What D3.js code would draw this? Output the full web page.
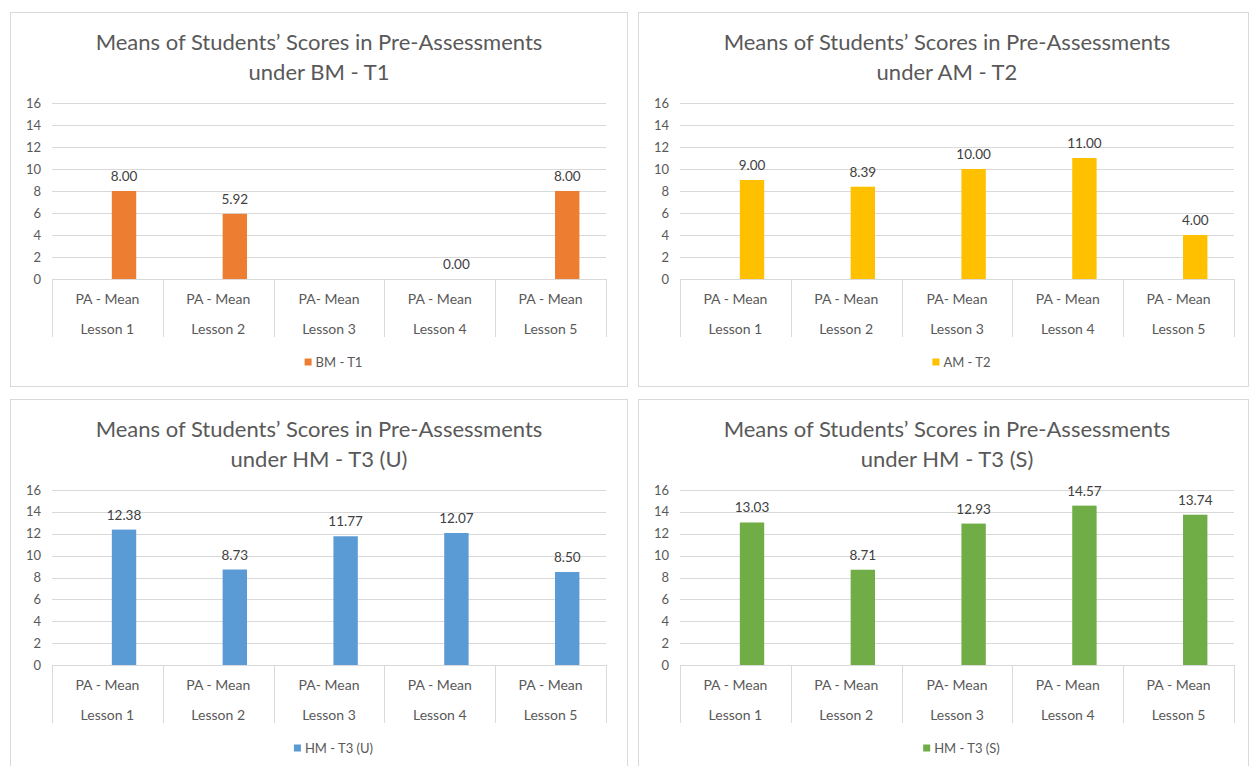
<!DOCTYPE html>
<html lang="en">
<head>
  <meta charset="UTF-8">
  <title>Means of Students' Scores in Pre-Assessments</title>
  <script src="https://d3js.org/d3.v7.min.js"></script>
  <style>
    body { margin: 0; background: #fff; font-family: Lato, "Open Sans", sans-serif; }
    .title { fill: #595959; font-size: 22px; }
    .tick-label { fill: #595959; font-size: 13px; }
    .cat-label { fill: #595959; font-size: 14px; }
    .value-label { fill: #404040; font-size: 13.5px; }
    .legend-label { fill: #595959; font-size: 13px; }
    .grid { stroke: #d9d9d9; stroke-width: 1; }
    .frame { fill: none; stroke: #d9d9d9; stroke-width: 1; }
  </style>
</head>
<body>
  <div id="chart"></div>
  <script>
    // categories
    const lessons = ["Lesson 1", "Lesson 2", "Lesson 3", "Lesson 4", "Lesson 5"];
    const subLabels = ["PA - Mean", "PA - Mean", "PA- Mean", "PA - Mean", "PA - Mean"];
    const yTicks = [0, 2, 4, 6, 8, 10, 12, 14, 16];

    // series values (null = no bar, no label)
    const bmT1 = [8.00, 5.92, null, 0.00, 8.00];
    const amT2 = [9.00, 8.39, 10.00, 11.00, 4.00];
    const hmT3U = [12.38, 8.73, 11.77, 12.07, 8.50];
    const hmT3S = [13.03, 8.71, 12.93, 14.57, 13.74];

    const titleLine1 = "Means of Students’ Scores in Pre-Assessments";

    const width = 1250, height = 766;
    const svg = d3.select("#chart").append("svg")
      .attr("width", width)
      .attr("height", height);

    const panels = [
      { name: "BM - T1", values: bmT1, color: "#ED7D31", fx: 10, fy: 12, fw: 617, fh: 374, x0: 52, x1: 606, y0: 279, y1: 103 },
      { name: "AM - T2", values: amT2, color: "#FFC000", fx: 638, fy: 12, fw: 610, fh: 374, x0: 680, x1: 1234, y0: 279, y1: 103 },
      { name: "HM - T3 (U)", values: hmT3U, color: "#5B9BD5", fx: 10, fy: 399, fw: 617, fh: 380, x0: 52, x1: 606, y0: 665, y1: 490 },
      { name: "HM - T3 (S)", values: hmT3S, color: "#70AD47", fx: 638, fy: 399, fw: 610, fh: 380, x0: 680, x1: 1234, y0: 665, y1: 490 }
    ];

    panels.forEach(p => drawPanel(p));

    function drawPanel(p) {
      const g = svg.append("g");

      g.append("rect")
        .attr("class", "frame")
        .attr("x", p.fx + 0.5)
        .attr("y", p.fy + 0.5)
        .attr("width", p.fw)
        .attr("height", p.fh);

      const cx = (p.x0 + p.x1) / 2;
      const title = g.append("text")
        .attr("class", "title")
        .attr("text-anchor", "middle");
      title.append("tspan").attr("x", cx - 10).attr("y", p.fy + 38).text(titleLine1);
      title.append("tspan").attr("x", cx - 10).attr("y", p.fy + 68).text("under " + p.name);

      const x = d3.scaleBand().domain(lessons).range([p.x0, p.x1]);
      const y = d3.scaleLinear().domain([0, 16]).range([p.y0, p.y1]);

      // gridlines
      g.selectAll(".grid")
        .data(yTicks)
        .enter().append("line")
        .attr("class", "grid")
        .attr("x1", p.x0)
        .attr("x2", p.x1)
        .attr("y1", d => Math.round(y(d)) + 0.5)
        .attr("y2", d => Math.round(y(d)) + 0.5);

      // y tick labels
      g.selectAll(".tick-label")
        .data(yTicks)
        .enter().append("text")
        .attr("class", "tick-label")
        .attr("x", p.x0 - 11)
        .attr("y", d => y(d))
        .attr("dy", "0.35em")
        .attr("text-anchor", "end")
        .text(d => d);

      // multi-level category box dividers
      const edges = lessons.map(l => x(l)).concat([p.x1]);
      g.selectAll(".divider")
        .data(edges)
        .enter().append("line")
        .attr("class", "grid")
        .attr("x1", d => Math.round(d) + 0.5)
        .attr("x2", d => Math.round(d) + 0.5)
        .attr("y1", p.y0)
        .attr("y2", p.y0 + 58);

      g.selectAll(".cat-label")
        .data(lessons)
        .enter().append("text")
        .attr("class", "cat-label")
        .attr("x", d => x(d) + x.bandwidth() / 2)
        .attr("y", p.y0 + 25)
        .attr("text-anchor", "middle")
        .text((d, i) => subLabels[i]);

      g.selectAll(".lesson-label")
        .data(lessons)
        .enter().append("text")
        .attr("class", "cat-label")
        .attr("x", d => x(d) + x.bandwidth() / 2)
        .attr("y", p.y0 + 55)
        .attr("text-anchor", "middle")
        .text(d => d);

      // bars sit right of category centre (Excel cluster slot)
      const barW = x.bandwidth() * 0.22;
      const barOff = x.bandwidth() * 0.04;
      const rows = lessons.map((l, i) => ({ lesson: l, value: p.values[i] }))
        .filter(d => d.value !== null);

      g.selectAll(".bar")
        .data(rows)
        .enter().append("rect")
        .attr("fill", p.color)
        .attr("x", d => x(d.lesson) + x.bandwidth() / 2 + barOff)
        .attr("y", d => y(d.value))
        .attr("width", barW)
        .attr("height", d => p.y0 - y(d.value));

      g.selectAll(".value-label")
        .data(rows)
        .enter().append("text")
        .attr("class", "value-label")
        .attr("x", d => x(d.lesson) + x.bandwidth() / 2 + barOff + barW / 2)
        .attr("y", d => y(d.value) - 10)
        .attr("text-anchor", "middle")
        .text(d => d.value.toFixed(2));

      // legend
      const legend = g.append("g")
        .attr("transform", `translate(${cx + 10},${p.y0 + 83})`);
      const lt = legend.append("text")
        .attr("class", "legend-label")
        .attr("x", 0)
        .attr("y", 0)
        .attr("dy", "0.35em")
        .attr("text-anchor", "middle")
        .text(p.name);
      const tw = lt.node().getComputedTextLength();
      legend.append("rect")
        .attr("x", -tw / 2 - 11)
        .attr("y", -3.5)
        .attr("width", 7)
        .attr("height", 7)
        .attr("fill", p.color);
    }
  </script>
</body>
</html>
